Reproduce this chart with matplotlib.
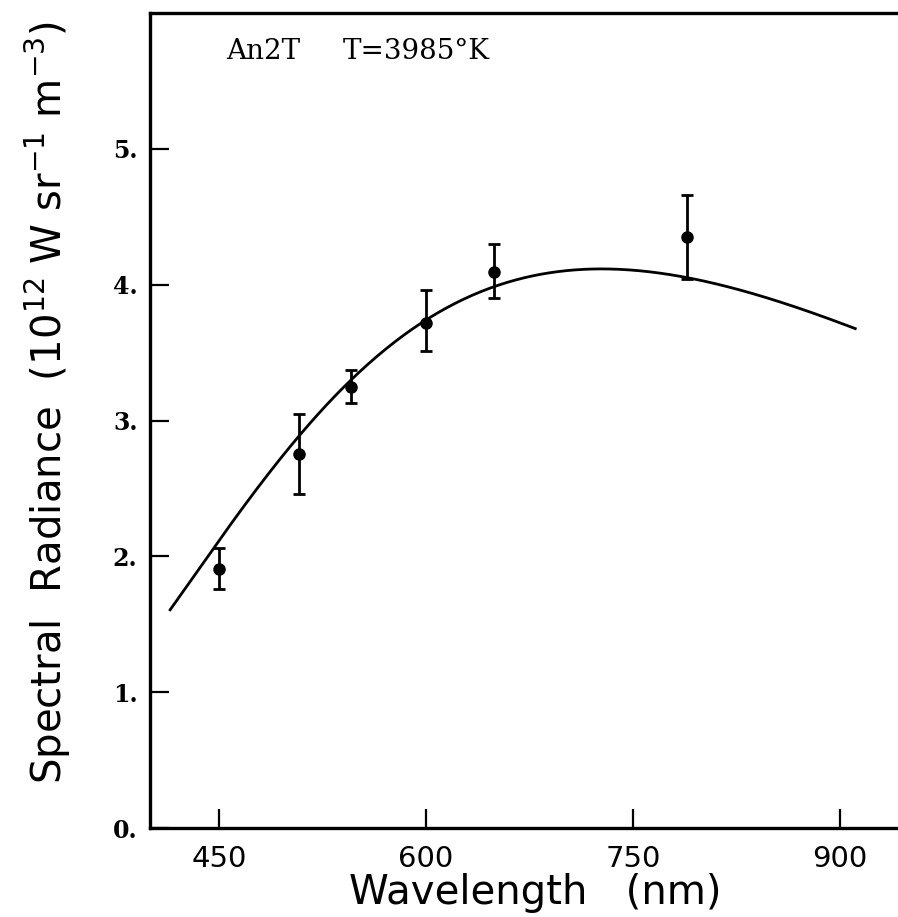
import numpy as np
import matplotlib
matplotlib.use("Agg")
import matplotlib.pyplot as plt

# Measured spectral radiance with error bars
wavelength_nm = [450, 508, 546, 600, 649, 789]
radiance = [1.91, 2.75, 3.25, 3.72, 4.09, 4.35]
radiance_hi = [2.06, 3.05, 3.37, 3.96, 4.30, 4.66]
radiance_lo = [1.76, 2.46, 3.13, 3.51, 3.90, 4.04]

# Blackbody fit
temperature_K = 3985.0
fit_range_nm = (414, 912)

x_ticks = [450, 600, 750, 900]
y_ticks = [0, 1, 2, 3, 4, 5]
y_tick_labels = ["0.", "1.", "2.", "3.", "4.", "5."]


def planck(lam_nm, T):
    """Spectral radiance in units of 1e12 W sr^-1 m^-3."""
    h = 6.62607015e-34
    c = 2.99792458e8
    k = 1.380649e-23
    lam = np.asarray(lam_nm) * 1e-9
    b = 2 * h * c**2 / lam**5 / (np.exp(h * c / (lam * k * T)) - 1.0)
    return b / 1e12


fig = plt.figure(figsize=(8.98, 9.17), dpi=100)
W, H = 898, 917
ax = fig.add_axes([150 / W, 1 - 828 / H, 759 / W, 815 / H])

lam_fit = np.linspace(fit_range_nm[0], fit_range_nm[1], 400)
ax.plot(lam_fit, planck(lam_fit, temperature_K), color="black", lw=2.0,
        solid_capstyle="butt")

y = np.array(radiance)
yerr = np.vstack([y - np.array(radiance_lo), np.array(radiance_hi) - y])
ax.errorbar(wavelength_nm, y, yerr=yerr, fmt="o", color="black",
            markersize=8, elinewidth=2.0, capsize=4.5, capthick=2.0)

ax.set_xlim(400, 950)
ax.set_ylim(0, 6.0)

for side in ("left", "bottom", "top"):
    ax.spines[side].set_linewidth(2.4)
ax.spines["right"].set_visible(False)

ax.set_xticks(x_ticks)
ax.set_xticklabels([str(t) for t in x_ticks], family="DejaVu Sans",
                   fontsize=21)
ax.set_yticks(y_ticks)
ax.set_yticklabels(y_tick_labels, family="DejaVu Serif", fontweight="bold",
                   fontsize=17)
ax.tick_params(axis="both", direction="in", length=14, width=1.6)
ax.tick_params(axis="x", pad=12)
ax.tick_params(axis="y", pad=9)
ax.tick_params(top=False, right=False)

ax.set_xlabel("Wavelength   (nm)", family="DejaVu Sans", fontsize=29)
ax.xaxis.set_label_coords(0.508, -0.055)
ax.xaxis.label.set_verticalalignment("top")

ax.set_ylabel("Spectral  Radiance  (10$^{12}$ W sr$^{-1}$ m$^{-3}$)",
              family="DejaVu Sans", fontsize=29)
ax.yaxis.set_label_coords(-0.101, 0.522)

ax.text(455, 5.72, "An2T", family="DejaVu Serif", fontsize=20,
        va="center", ha="left")
ax.text(540, 5.72, "T=3985°K", family="DejaVu Serif", fontsize=20,
        va="center", ha="left")

fig.savefig("out.png", dpi=100)
